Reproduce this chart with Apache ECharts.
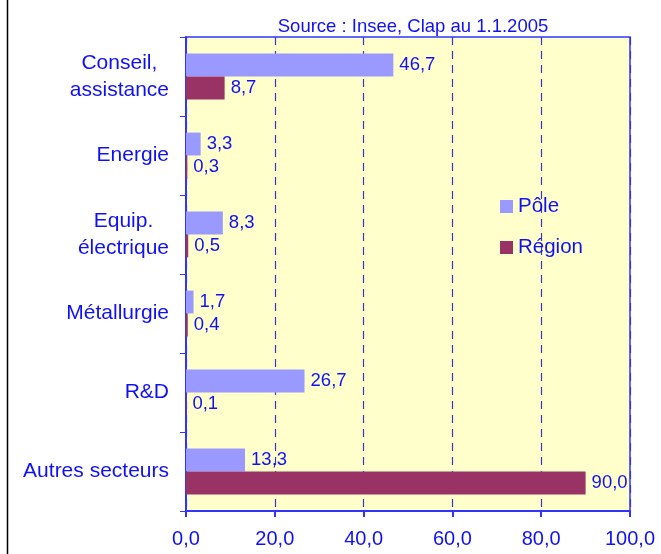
<!DOCTYPE html>
<html><head><meta charset="utf-8">
<script src="https://cdn.jsdelivr.net/npm/echarts@6/dist/echarts.min.js"></script>
<style>html,body{margin:0;padding:0;background:#fff}#c{width:661px;height:554px}</style>
</head><body><div id="c"></div>
<script>
const categories = ['Conseil,\nassistance', 'Energie', 'Equip.\nélectrique', 'Métallurgie', 'R&D', 'Autres secteurs'];
const pole = [46.7, 3.3, 8.3, 1.7, 26.7, 13.3];
const region = [8.7, 0.3, 0.5, 0.4, 0.1, 90.0];
const seriesNames = ['Pôle', 'Région'];
const titleText = 'Source : Insee, Clap au 1.1.2005';

const BLUE = '#1010F5';
const FONT = 'Liberation Sans, Arial';
const fmt = v => v.toFixed(1).replace('.', ',');
const chart = echarts.init(document.getElementById('c'), null, {renderer: 'canvas'});
const labelStyle = {show: true, position: 'right', distance: 6, color: BLUE, fontSize: 18.5,
  fontFamily: FONT, formatter: p => fmt(p.value)};
chart.setOption({
  animation: false,
  backgroundColor: '#fff',
  title: {text: titleText, left: 408, top: 12, textAlign: 'center',
    textStyle: {color: BLUE, fontSize: 18.5, fontWeight: 'normal', fontFamily: FONT}},
  grid: {left: 186, right: 31, top: 37, bottom: 43, show: true, backgroundColor: '#FFFFCC',
    borderColor: '#3333FF', borderWidth: 1.5},
  legend: {orient: 'vertical', left: 495, top: 191, padding: 5, itemWidth: 13, itemHeight: 13, itemGap: 20,
    icon: 'rect', data: seriesNames,
    textStyle: {color: BLUE, fontSize: 20.5, fontFamily: FONT, padding: [0, 0, 0, 0]}},
  xAxis: {type: 'value', min: 0, max: 100, interval: 20,
    axisLine: {show: true, lineStyle: {color: '#3333FF', width: 2}},
    axisTick: {show: true, length: 6, lineStyle: {color: '#3333FF', width: 2}},
    axisLabel: {color: BLUE, fontSize: 20, margin: 18, fontFamily: FONT, formatter: fmt},
    splitLine: {show: true, lineStyle: {color: '#3636C8', type: [8, 6], width: 1.2}}},
  yAxis: {type: 'category', data: categories, inverse: true,
    axisLine: {show: true, lineStyle: {color: '#3333FF', width: 2}},
    axisTick: {show: true, length: 6, lineStyle: {color: '#3333FF', width: 1}},
    axisLabel: {color: BLUE, fontSize: 21, margin: 17, lineHeight: 27, align: 'right',
      fontFamily: FONT,
      formatter: v => v.split('\n').map(s => '{c|' + s + '}').join('\n'),
      rich: {c: {align: 'center', color: BLUE, fontSize: 21, lineHeight: 27, fontFamily: FONT}}},
    splitLine: {show: false}},
  series: [
    {name: seriesNames[0], type: 'bar', data: pole, barCategoryGap: '42%', barGap: '0%',
      itemStyle: {color: '#9999FF'}, label: labelStyle},
    {name: seriesNames[1], type: 'bar', data: region, barCategoryGap: '42%', barGap: '0%',
      itemStyle: {color: '#993366'}, label: labelStyle}
  ],
  graphic: [{type: 'line', shape: {x1: 7.5, y1: 0, x2: 7.5, y2: 554}, style: {stroke: '#000', lineWidth: 1.5}}]
});
</script></body></html>
